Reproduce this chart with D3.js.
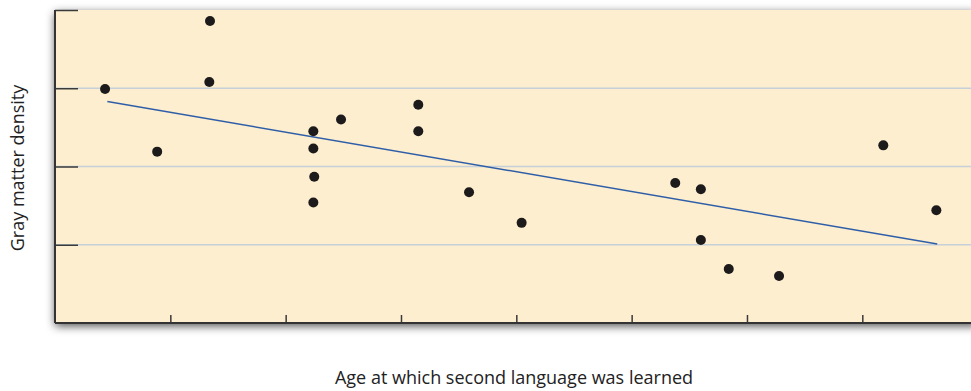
<!DOCTYPE html>
<html>
<head>
<meta charset="utf-8">
<script src="https://cdn.jsdelivr.net/npm/d3@7"></script>
<style>
  html, body { margin: 0; padding: 0; background: #ffffff; }
  svg { display: block; }
</style>
</head>
<body>
<svg id="chart" width="971" height="391"></svg>
<script>
// ---- data ----
const ages    = [2.17, 4.43, 6.72, 6.69, 11.2, 11.2, 11.24, 11.2, 12.4, 15.75, 15.75, 17.95, 20.23, 26.89, 28.0, 28.0, 29.21, 31.39, 35.91, 38.21];
const density = [2.99, 2.19, 3.86, 3.08, 2.45, 2.23, 1.87, 1.54, 2.60, 2.79, 2.45, 1.67, 1.28, 1.79, 1.71, 1.06, 0.69, 0.60, 2.27, 1.44];
const trendAges    = [2.27, 38.25];
const trendDensity = [2.83, 1.01];
const xTickValues = [5, 10, 15, 20, 25, 30, 35];
const yTickValues = [0, 1, 2, 3, 4];
const xLabel = "Age at which second language was learned";
const yLabel = "Gray matter density";

// ---- layout ----
const svg = d3.select("#chart");
const mLeft = 55, mTop = 10, mBottom = 323, mRight = 55 + 40 * 23.066;

const x = d3.scaleLinear().domain([0, 40]).range([mLeft, mRight]);
const y = d3.scaleLinear().domain([0, 4]).range([mBottom, mTop]);

const defs = svg.append("defs");
const f = defs.append("filter").attr("id", "shadow")
  .attr("x", "-5%").attr("y", "-10%").attr("width", "110%").attr("height", "125%");
f.append("feDropShadow").attr("dx", 0).attr("dy", 3).attr("stdDeviation", 5)
  .attr("flood-color", "#000").attr("flood-opacity", 0.7);

// plot panel
svg.append("rect")
  .attr("x", mLeft).attr("y", mTop)
  .attr("width", mRight - mLeft).attr("height", mBottom - mTop)
  .attr("fill", "#fdeecf")
  .attr("filter", "url(#shadow)");

// gridlines
svg.append("g").selectAll("line")
  .data(yTickValues.filter(d => d > 0 && d < 4))
  .join("line")
  .attr("x1", mLeft).attr("x2", mRight)
  .attr("y1", d => y(d)).attr("y2", d => y(d))
  .attr("stroke", "#c6d0d8").attr("stroke-width", 1.5);

// y axis (ticks inward, no labels)
const yAxis = d3.axisRight(y).tickValues(yTickValues.filter(d => d > 0)).tickSize(23).tickFormat("");
const gy = svg.append("g").attr("transform", `translate(${mLeft},0)`).call(yAxis);
gy.select(".domain").remove();
gy.selectAll(".tick line").attr("stroke", "#3a3a3a").attr("stroke-width", 1.5);

// x axis (ticks inward/upward, no labels)
const xAxis = d3.axisTop(x).tickValues(xTickValues).tickSize(8).tickFormat("");
const gx = svg.append("g").attr("transform", `translate(0,${mBottom})`).call(xAxis);
gx.select(".domain").remove();
gx.selectAll(".tick line").attr("stroke", "#3a3a3a").attr("stroke-width", 1.5);

// axis lines
svg.append("line").attr("x1", mLeft).attr("x2", mLeft).attr("y1", mTop).attr("y2", mBottom)
  .attr("stroke", "#333").attr("stroke-width", 2);
svg.append("line").attr("x1", mLeft).attr("x2", mRight).attr("y1", mBottom).attr("y2", mBottom)
  .attr("stroke", "#333").attr("stroke-width", 2);

// trend line
svg.append("path")
  .datum(d3.zip(trendAges, trendDensity))
  .attr("d", d3.line().x(d => x(d[0])).y(d => y(d[1])))
  .attr("fill", "none").attr("stroke", "#2f5ea8").attr("stroke-width", 1.5);

// points
svg.append("g").selectAll("circle")
  .data(d3.zip(ages, density))
  .join("circle")
  .attr("cx", d => x(d[0])).attr("cy", d => y(d[1]))
  .attr("r", 5).attr("fill", "#1c1a1a");

// labels
svg.append("text")
  .attr("x", 514).attr("y", 384)
  .attr("text-anchor", "middle")
  .attr("font-family", "'Open Sans', sans-serif").attr("font-size", 18)
  .attr("fill", "#222")
  .text(xLabel);

svg.append("text")
  .attr("transform", `translate(24,168) rotate(-90)`)
  .attr("text-anchor", "middle")
  .attr("font-family", "'Open Sans', sans-serif").attr("font-size", 18)
  .attr("fill", "#222")
  .text(yLabel);
</script>
</body>
</html>
